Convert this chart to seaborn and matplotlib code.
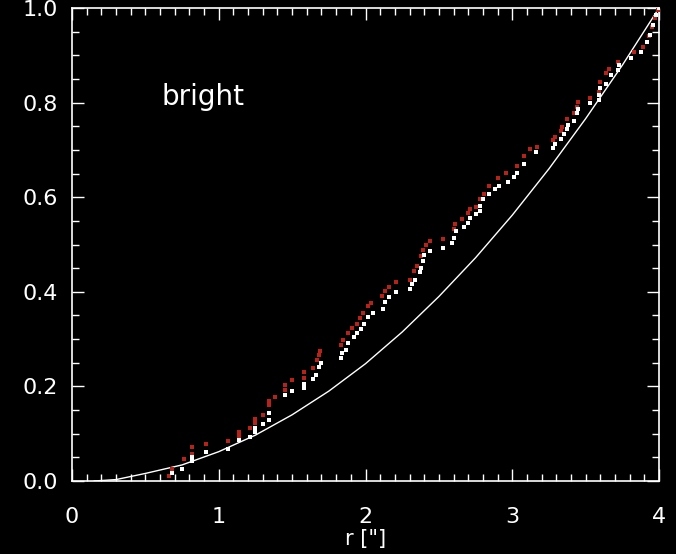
import matplotlib
matplotlib.use("Agg")
import matplotlib.pyplot as plt
from matplotlib.ticker import MultipleLocator
import seaborn as sns
import pandas as pd

# smooth reference curve
line_r = [0.15, 0.30, 0.50, 0.75, 1.00, 1.25, 1.50, 1.75, 2.00, 2.25, 2.50,
          2.75, 3.00, 3.25, 3.50, 3.75, 4.00]
line_y = [0.000, 0.003, 0.016, 0.034, 0.062, 0.097, 0.140, 0.190, 0.248, 0.315,
          0.390, 0.472, 0.562, 0.660, 0.766, 0.879, 1.000]

# white points
white_r = [0.68, 0.75, 0.82, 0.82, 0.91, 1.06, 1.14, 1.21, 1.25, 1.25, 1.30, 1.34,
           1.34, 1.45, 1.50, 1.58, 1.58, 1.64, 1.66, 1.68, 1.70, 1.83, 1.84, 1.87,
           1.88, 1.92, 1.94, 1.97, 1.99, 2.02, 2.05, 2.12, 2.13, 2.16, 2.21, 2.30,
           2.32, 2.34, 2.37, 2.38, 2.39, 2.40, 2.44, 2.53, 2.59, 2.60, 2.62, 2.67,
           2.70, 2.71, 2.75, 2.78, 2.78, 2.80, 2.84, 2.88, 2.91, 2.97, 3.01, 3.03,
           3.08, 3.16, 3.28, 3.29, 3.33, 3.35, 3.37, 3.38, 3.42, 3.44, 3.45, 3.53,
           3.59, 3.59, 3.60, 3.64, 3.67, 3.72, 3.73, 3.81, 3.88, 3.92, 3.94, 3.96,
           3.98, 4.00]
white_y = [0.016, 0.026, 0.050, 0.043, 0.062, 0.068, 0.087, 0.094, 0.103, 0.113,
           0.120, 0.129, 0.143, 0.181, 0.191, 0.197, 0.206, 0.216, 0.225, 0.241,
           0.250, 0.259, 0.270, 0.278, 0.291, 0.304, 0.312, 0.321, 0.332, 0.347,
           0.355, 0.363, 0.379, 0.389, 0.399, 0.406, 0.416, 0.426, 0.441, 0.450,
           0.465, 0.477, 0.486, 0.493, 0.504, 0.514, 0.528, 0.538, 0.546, 0.557,
           0.564, 0.571, 0.581, 0.596, 0.606, 0.618, 0.624, 0.633, 0.642, 0.652,
           0.670, 0.695, 0.704, 0.713, 0.723, 0.734, 0.745, 0.753, 0.762, 0.777,
           0.787, 0.799, 0.805, 0.817, 0.830, 0.840, 0.858, 0.869, 0.879, 0.894,
           0.908, 0.929, 0.943, 0.965, 0.986, 1.000]

# red points
red_r = [0.66, 0.68, 0.76, 0.82, 0.82, 0.91, 1.06, 1.14, 1.14, 1.21, 1.25, 1.25,
         1.30, 1.34, 1.34, 1.38, 1.45, 1.45, 1.50, 1.58, 1.58, 1.64, 1.67, 1.68,
         1.69, 1.83, 1.85, 1.88, 1.91, 1.94, 1.96, 1.98, 2.02, 2.04, 2.11, 2.13,
         2.16, 2.21, 2.30, 2.33, 2.35, 2.38, 2.39, 2.41, 2.44, 2.53, 2.60, 2.61,
         2.66, 2.70, 2.71, 2.75, 2.78, 2.81, 2.84, 2.90, 2.96, 3.03, 3.08, 3.12,
         3.17, 3.28, 3.29, 3.33, 3.34, 3.37, 3.42, 3.44, 3.45, 3.53, 3.59, 3.60,
         3.64, 3.66, 3.72, 3.83, 3.89, 3.93, 3.95, 3.97, 3.99]
red_y = [0.010, 0.026, 0.047, 0.057, 0.071, 0.079, 0.084, 0.095, 0.103, 0.113,
         0.122, 0.131, 0.140, 0.160, 0.169, 0.177, 0.193, 0.203, 0.214, 0.218,
         0.230, 0.238, 0.255, 0.266, 0.275, 0.287, 0.298, 0.313, 0.323, 0.332,
         0.344, 0.355, 0.369, 0.377, 0.391, 0.401, 0.411, 0.420, 0.426, 0.443,
         0.454, 0.475, 0.489, 0.500, 0.507, 0.512, 0.532, 0.543, 0.553, 0.567,
         0.574, 0.580, 0.596, 0.606, 0.624, 0.640, 0.651, 0.667, 0.688, 0.701,
         0.706, 0.720, 0.727, 0.741, 0.748, 0.766, 0.777, 0.791, 0.801, 0.810,
         0.823, 0.843, 0.862, 0.871, 0.885, 0.908, 0.918, 0.940, 0.960, 0.979,
         0.996]

label_text = "bright"
xlabel_text = 'r ["]'

sns.set_theme(style="dark")
fg = "white"
plt.rcParams.update({
    "figure.facecolor": "black", "axes.facecolor": "black",
    "axes.edgecolor": fg, "axes.labelcolor": fg, "text.color": fg,
    "xtick.color": fg, "ytick.color": fg, "axes.grid": False,
})
plt.rcParams["font.family"] = ["DejaVu Sans"]

fig = plt.figure(figsize=(6.76, 5.54), dpi=100)
ax = fig.add_axes([72 / 676, 1 - 481 / 554, 587 / 676, 473 / 554])

df_line = pd.DataFrame({"r": line_r, "y": line_y})
df_w = pd.DataFrame({"r": white_r, "y": white_y})
df_r = pd.DataFrame({"r": red_r, "y": red_y})

sns.lineplot(data=df_line, x="r", y="y", ax=ax, color="white", linewidth=1.0,
             estimator=None, sort=True)
sns.scatterplot(data=df_r, x="r", y="y", ax=ax, color="#b82219", marker="s",
                s=10, linewidth=0, zorder=3)
sns.scatterplot(data=df_w, x="r", y="y", ax=ax, color="white", marker="s",
                s=10, linewidth=0, zorder=4)

ax.set_xlim(0, 4)
ax.set_ylim(0, 1)
ax.xaxis.set_major_locator(MultipleLocator(1))
ax.xaxis.set_minor_locator(MultipleLocator(0.1))
ax.yaxis.set_major_locator(MultipleLocator(0.2))
ax.yaxis.set_minor_locator(MultipleLocator(0.05))
ax.xaxis.set_major_formatter(matplotlib.ticker.FormatStrFormatter("%d"))
ax.yaxis.set_major_formatter(matplotlib.ticker.FormatStrFormatter("%.1f"))
ax.tick_params(which="both", direction="in", top=True, right=True,
               bottom=True, left=True, colors=fg, width=1.0)
ax.tick_params(which="major", length=8.5, labelsize=16)
ax.tick_params(which="minor", length=4.7)
ax.tick_params(axis="x", which="major", pad=19)
ax.tick_params(axis="y", which="major", pad=10)
for sp in ax.spines.values():
    sp.set_color(fg)
    sp.set_linewidth(1.2)
    sp.set_visible(True)

ax.set_xlabel(xlabel_text, fontsize=15, labelpad=1)
ax.set_ylabel("")
ax.text(0.153, 0.795, label_text, transform=ax.transAxes, fontsize=20, color=fg)

fig.savefig("out.png", dpi=100, facecolor="black")
